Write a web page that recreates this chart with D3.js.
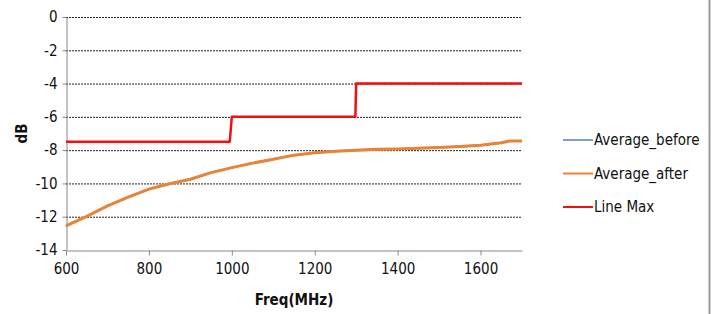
<!DOCTYPE html>
<html>
<head>
    <meta charset="utf-8">
    <script src="https://d3js.org/d3.v7.min.js"></script>
    <style>
        body { margin: 0; background: #fff; }
        svg { display: block; }
        text { font-family: "Liberation Sans Narrow", "DejaVu Sans Condensed", "Open Sans", sans-serif; fill: #111; }
    </style>
</head>
<body>
<svg id="chart" width="711" height="314"></svg>
<script>
    // data
    let freq = [600, 650, 700, 750, 800, 850, 900, 950, 1000, 1050, 1100, 1150, 1200,
                1250, 1300, 1350, 1400, 1450, 1500, 1550, 1600, 1650, 1670, 1700]
    let averageBefore = [-12.55, -11.98, -11.35, -10.82, -10.34, -10.02, -9.75, -9.35, -9.05, -8.78,
                         -8.55, -8.3, -8.16, -8.06, -8.0, -7.95, -7.93, -7.89, -7.84, -7.78,
                         -7.7, -7.56, -7.45, -7.45]
    let averageAfter = averageBefore.slice()
    let maxFreq = [600, 995, 1000, 1298, 1300, 1700]
    let maxDb = [-7.5, -7.5, -6, -6, -4, -4]
    let xTicks = [600, 800, 1000, 1200, 1400, 1600]
    let yTicks = [0, -2, -4, -6, -8, -10, -12, -14]

    let series = [
        {name: "Average_before", color: "#4F81BD", width: 2, pts: freq.map((f, i) => [f, averageBefore[i]])},
        {name: "Average_after", color: "#E7843A", width: 3, pts: freq.map((f, i) => [f, averageAfter[i]])},
        {name: "Line Max", color: "#F01010", width: 2.5, pts: maxFreq.map((f, i) => [f, maxDb[i]])}
    ]

    let svg = d3.select("#chart"),
        margin = {top: 17, left: 66, bottom: 64, right: 189},
        width = +svg.attr("width") - margin.left - margin.right,
        height = +svg.attr("height") - margin.top - margin.bottom

    let x = d3.scaleLinear().domain([600, 1700]).range([margin.left, margin.left + width])
    let y = d3.scaleLinear().domain([-14, 0]).range([margin.top + height, margin.top])

    // gridlines
    svg.append("g").selectAll("line")
        .data(yTicks.filter(d => d > -14))
        .enter().append("line")
        .attr("x1", x(600)).attr("x2", x(1700))
        .attr("y1", d => y(d) + 0.5).attr("y2", d => y(d) + 0.5)
        .attr("stroke", "#222").attr("stroke-width", 1)
        .attr("stroke-dasharray", "2,1")

    // axes
    let xAxis = svg.append("g")
        .attr("transform", `translate(0,${y(-14) + 0.5})`)
        .call(d3.axisBottom(x).tickValues(xTicks).tickFormat(d3.format("d"))
            .tickSize(5).tickSizeOuter(0).tickPadding(8))
    xAxis.select(".domain").attr("stroke", "#888")
    xAxis.selectAll(".tick line").attr("stroke", "#888")
    xAxis.selectAll(".tick text").style("font-size", "15px").attr("fill", "#111")

    let yAxis = svg.append("g")
        .attr("transform", `translate(${x(600) + 0.5},0)`)
        .call(d3.axisLeft(y).tickValues(yTicks).tickSize(4).tickSizeOuter(0).tickPadding(5)
            .tickFormat(d => d === 0 ? "0" : "-" + Math.abs(d)))
    yAxis.select(".domain").attr("stroke", "#888")
    yAxis.selectAll(".tick line").attr("stroke", "#888")
    yAxis.selectAll(".tick text").style("font-size", "15px").attr("fill", "#111")

    // lines
    let line = d3.line().x(d => x(d[0])).y(d => y(d[1]))
    svg.append("g").selectAll("path")
        .data(series)
        .enter().append("path")
        .attr("d", d => line(d.pts))
        .attr("fill", "none")
        .attr("stroke", d => d.color)
        .attr("stroke-width", d => d.width)
        .attr("stroke-linejoin", "round")

    // axis titles
    svg.append("text")
        .attr("x", x(1150)).attr("y", 305)
        .attr("text-anchor", "middle")
        .style("font-size", "15px").style("font-weight", "bold")
        .text("Freq(MHz)")

    svg.append("text")
        .attr("transform", `translate(27,${y(-7)}) rotate(-90)`)
        .attr("text-anchor", "middle")
        .style("font-size", "15px").style("font-weight", "bold")
        .text("dB")

    // legend
    let legend = svg.append("g").selectAll("g")
        .data(series)
        .enter().append("g")
        .attr("transform", (d, i) => `translate(563,${140 + i * 33.5})`)
    legend.append("line")
        .attr("x1", 0).attr("x2", 30)
        .attr("stroke", d => d.color)
        .attr("stroke-width", d => d.name === "Average_before" ? 1.5 : 2)
    legend.append("text")
        .attr("x", 31).attr("dy", "0.35em")
        .style("font-size", "15px")
        .text(d => d.name)

    // right frame edge
    svg.append("line")
        .attr("x1", 709.5).attr("x2", 709.5)
        .attr("y1", 0).attr("y2", 314)
        .attr("stroke", "#999").attr("stroke-width", 2)
</script>
</body>
</html>
